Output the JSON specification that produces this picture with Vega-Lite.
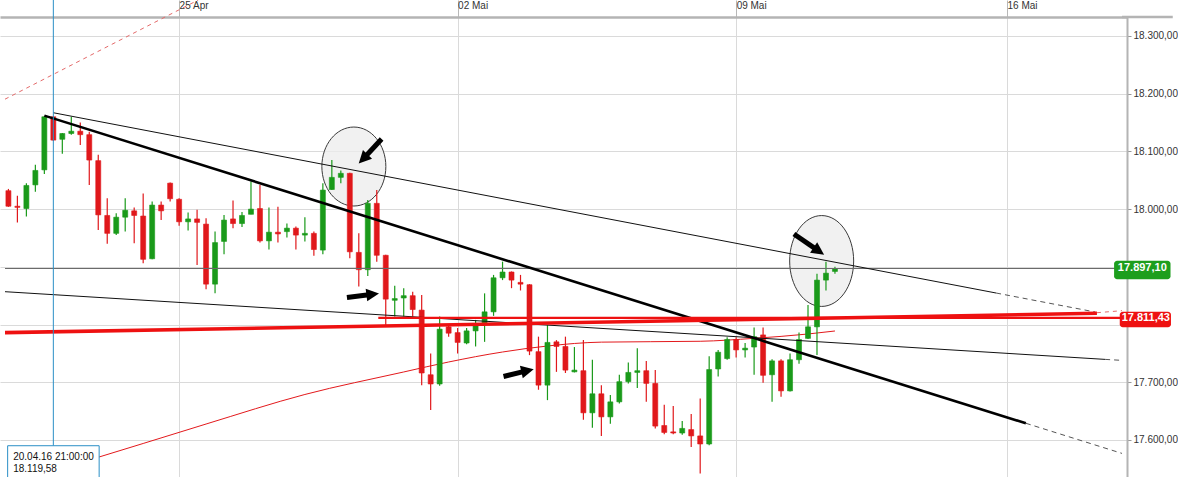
{
  "$schema": "https://vega.github.io/schema/vega-lite/v6.json",
  "width": 1127,
  "height": 460,
  "autosize": {"type": "none"},
  "padding": {"left": 0, "top": 17, "right": 51, "bottom": 0},
  "background": "white",
  "config": {
    "view": {"stroke": null},
    "font": "Liberation Sans",
    "locale": {"number": {"decimal": ",", "thousands": ".", "grouping": [3], "currency": ["", " €"]}}
  },
  "datasets": {
    "candles": [
      {"i":1,"o":18032,"h":18035,"l":18004,"c":18005},
      {"i":2,"o":18005,"h":18023,"l":17977,"c":18003},
      {"i":3,"o":18001,"h":18045,"l":17987,"c":18041},
      {"i":4,"o":18042,"h":18077,"l":18030,"c":18067},
      {"i":5,"o":18068,"h":18161,"l":18061,"c":18160},
      {"i":6,"o":18160,"h":18161,"l":18118,"c":18119.58},
      {"i":7,"o":18121,"h":18132,"l":18096,"c":18131},
      {"i":8,"o":18131,"h":18160,"l":18129,"c":18135},
      {"i":9,"o":18135,"h":18150,"l":18111,"c":18129},
      {"i":10,"o":18129,"h":18134,"l":18042,"c":18085},
      {"i":11,"o":18084,"h":18094,"l":17964,"c":17990},
      {"i":12,"o":17989,"h":18019,"l":17940,"c":17958},
      {"i":13,"o":17958,"h":17993,"l":17955,"c":17986},
      {"i":14,"o":17986,"h":18019,"l":17961,"c":17998},
      {"i":15,"o":17997,"h":18003,"l":17941,"c":17989},
      {"i":16,"o":17988,"h":18027,"l":17906,"c":17913},
      {"i":17,"o":17914,"h":18013,"l":17913,"c":18007},
      {"i":18,"o":18007,"h":18013,"l":17981,"c":17997},
      {"i":19,"o":18045,"h":18046,"l":18013,"c":18018},
      {"i":20,"o":18017,"h":18019,"l":17971,"c":17978},
      {"i":21,"o":17978,"h":17994,"l":17963,"c":17983},
      {"i":22,"o":17983,"h":17999,"l":17903,"c":17977},
      {"i":23,"o":17974,"h":17984,"l":17861,"c":17870},
      {"i":24,"o":17870,"h":17961,"l":17854,"c":17942},
      {"i":25,"o":17944,"h":17990,"l":17922,"c":17981},
      {"i":26,"o":17983,"h":18015,"l":17967,"c":17975},
      {"i":27,"o":17975,"h":17995,"l":17969,"c":17989},
      {"i":28,"o":17991,"h":18048,"l":17991,"c":18000},
      {"i":29,"o":18001,"h":18042,"l":17942,"c":17945},
      {"i":30,"o":17945,"h":18003,"l":17930,"c":17960},
      {"i":31,"o":17960,"h":18004,"l":17942,"c":17957},
      {"i":32,"o":17961,"h":17975,"l":17951,"c":17967},
      {"i":33,"o":17967,"h":17970,"l":17930,"c":17955},
      {"i":34,"o":17955,"h":17986,"l":17944,"c":17958},
      {"i":35,"o":17958,"h":17961,"l":17919,"c":17930},
      {"i":36,"o":17929,"h":18045,"l":17922,"c":18033},
      {"i":37,"o":18034,"h":18085,"l":18033,"c":18055},
      {"i":38,"o":18055,"h":18067,"l":18045,"c":18062},
      {"i":39,"o":18062,"h":18063,"l":17915,"c":17926},
      {"i":40,"o":17925,"h":17958,"l":17866,"c":17895},
      {"i":41,"o":17895,"h":18016,"l":17884,"c":18010},
      {"i":42,"o":18010,"h":18033,"l":17909,"c":17920},
      {"i":43,"o":17920,"h":17921,"l":17799,"c":17844},
      {"i":44,"o":17842,"h":17867,"l":17814,"c":17845},
      {"i":45,"o":17846,"h":17863,"l":17814,"c":17850},
      {"i":46,"o":17850,"h":17857,"l":17814,"c":17826},
      {"i":47,"o":17825,"h":17851,"l":17695,"c":17716},
      {"i":48,"o":17713,"h":17750,"l":17652,"c":17697},
      {"i":49,"o":17697,"h":17814,"l":17694,"c":17792},
      {"i":50,"o":17796,"h":17799,"l":17779,"c":17785},
      {"i":51,"o":17786,"h":17794,"l":17750,"c":17769},
      {"i":52,"o":17768,"h":17794,"l":17766,"c":17789},
      {"i":53,"o":17789,"h":17808,"l":17762,"c":17798},
      {"i":54,"o":17802,"h":17854,"l":17770,"c":17822},
      {"i":55,"o":17822,"h":17886,"l":17815,"c":17881},
      {"i":56,"o":17881,"h":17909,"l":17877,"c":17891},
      {"i":57,"o":17891,"h":17892,"l":17863,"c":17877},
      {"i":58,"o":17873,"h":17886,"l":17859,"c":17870},
      {"i":59,"o":17869,"h":17870,"l":17747,"c":17754},
      {"i":60,"o":17753,"h":17779,"l":17687,"c":17695},
      {"i":61,"o":17695,"h":17799,"l":17669,"c":17769},
      {"i":62,"o":17770,"h":17773,"l":17718,"c":17762},
      {"i":63,"o":17762,"h":17779,"l":17716,"c":17721},
      {"i":64,"o":17718,"h":17761,"l":17717,"c":17721},
      {"i":65,"o":17720,"h":17773,"l":17635,"c":17647},
      {"i":66,"o":17647,"h":17739,"l":17621,"c":17680},
      {"i":67,"o":17680,"h":17695,"l":17607,"c":17640},
      {"i":68,"o":17640,"h":17678,"l":17628,"c":17666},
      {"i":69,"o":17666,"h":17713,"l":17663,"c":17701},
      {"i":70,"o":17701,"h":17734,"l":17698,"c":17717},
      {"i":71,"o":17717,"h":17759,"l":17690,"c":17720},
      {"i":72,"o":17720,"h":17737,"l":17666,"c":17698},
      {"i":73,"o":17698,"h":17721,"l":17620,"c":17624},
      {"i":74,"o":17625,"h":17661,"l":17610,"c":17613},
      {"i":75,"o":17614,"h":17659,"l":17610,"c":17612},
      {"i":76,"o":17612,"h":17633,"l":17609,"c":17620},
      {"i":77,"o":17618,"h":17645,"l":17588,"c":17607},
      {"i":78,"o":17607,"h":17672,"l":17542,"c":17593},
      {"i":79,"o":17593,"h":17745,"l":17591,"c":17722},
      {"i":80,"o":17723,"h":17756,"l":17710,"c":17752},
      {"i":81,"o":17741,"h":17778,"l":17739,"c":17774},
      {"i":82,"o":17774,"h":17778,"l":17743,"c":17756},
      {"i":83,"o":17756,"h":17768,"l":17743,"c":17759},
      {"i":84,"o":17761,"h":17795,"l":17713,"c":17779},
      {"i":85,"o":17782,"h":17795,"l":17699,"c":17712},
      {"i":86,"o":17713,"h":17740,"l":17666,"c":17737},
      {"i":87,"o":17737,"h":17740,"l":17675,"c":17685},
      {"i":88,"o":17685,"h":17750,"l":17684,"c":17739},
      {"i":89,"o":17739,"h":17786,"l":17732,"c":17774},
      {"i":90,"o":17776,"h":17834,"l":17775,"c":17796},
      {"i":91,"o":17796,"h":17888,"l":17747,"c":17877},
      {"i":92,"o":17877,"h":17909,"l":17859,"c":17889},
      {"i":93,"o":17892,"h":17900,"l":17888,"c":17897.1}
    ],
    "ma": [
      {"i":6,"v":17546.2},{"i":11,"v":17570},{"i":16,"v":17593.9},{"i":23,"v":17627.6},
      {"i":34,"v":17678.8},{"i":45,"v":17717.8},{"i":50,"v":17735.1},{"i":56,"v":17752.4},
      {"i":61,"v":17762.8},{"i":67,"v":17769.5},{"i":78,"v":17771},{"i":84,"v":17776.1},
      {"i":90,"v":17783.6},{"i":93,"v":17788.8}
    ]
  },
  "layer": [
    {
      "data": {"values": [{"i": 39.45, "v": 18073.8}]},
      "mark": {"type": "point", "shape": "M-1,0A1,1.234,0,1,1,1,0A1,1.234,0,1,1,-1,0Z", "size": 4096, "filled": true, "fill": "#ececec", "fillOpacity": 0.75, "stroke": "#3a3a3a", "strokeWidth": 1, "opacity": 1},
      "encoding": {"x": {"field": "i", "type": "quantitative"}, "y": {"field": "v", "type": "quantitative"}}
    },
    {
      "data": {"values": [{"i": 91.52, "v": 17910.1}]},
      "mark": {"type": "point", "shape": "M-1,0A1,1.42,0,1,1,1,0A1,1.42,0,1,1,-1,0Z", "size": 4096, "filled": true, "fill": "#ececec", "fillOpacity": 0.75, "stroke": "#3a3a3a", "strokeWidth": 1, "opacity": 1},
      "encoding": {"x": {"field": "i", "type": "quantitative"}, "y": {"field": "v", "type": "quantitative"}}
    },
    {
      "data": {"name": "ma"},
      "mark": {"type": "line", "color": "#e3191c", "strokeWidth": 1, "interpolate": "monotone"},
      "encoding": {"x": {"field": "i", "type": "quantitative"}, "y": {"field": "v", "type": "quantitative"}}
    },
    {
      "data": {"name": "candles"},
      "mark": {"type": "rule", "strokeWidth": 1.2},
      "encoding": {
        "x": {"field": "i", "type": "quantitative",
          "scale": {"domain": [0.62, 124.95], "nice": false, "zero": false},
          "axis": {"orient": "top", "values": [20, 51, 82, 112.15],
            "labelExpr": "datum.value == 20 ? '25 Apr' : datum.value == 51 ? '02 Mai' : datum.value == 82 ? '09 Mai' : '16 Mai'",
            "tickSize": 17, "tickColor": "#b8b8b8", "labelAlign": "left", "labelBaseline": "middle",
            "labelPadding": -5, "labelDx": 6, "labelFontSize": 10, "labelColor": "#333",
            "grid": true, "gridColor": "#dadada", "domain": true, "domainColor": "#b4b4b4", "domainWidth": 2.5,
            "title": null, "labelFlush": false, "labelOverlap": false}},
        "y": {"field": "l", "type": "quantitative",
          "scale": {"domain": [17535.8, 18332.9], "nice": false, "zero": false},
          "axis": {"orient": "right", "values": [17600, 17700, 17800, 17900, 18000, 18100, 18200, 18300],
            "format": ",.2f", "labelExpr": "datum.value == 17800 || datum.value == 17900 ? '' : datum.label",
            "tickSize": 4, "tickColor": "#999", "labelPadding": 2, "labelFontSize": 10,
            "labelColor": "#333", "grid": true, "gridColor": "#dadada", "domainColor": "#b4b4b4", "domainWidth": 2,
            "title": null}},
        "y2": {"field": "h"},
        "color": {"condition": {"test": "datum.c >= datum.o", "value": "#1a9a1a"}, "value": "#e0181b"}
      }
    },
    {
      "data": {"name": "candles"},
      "mark": {"type": "bar", "width": 5, "strokeWidth": 0.6},
      "encoding": {
        "x": {"field": "i", "type": "quantitative"},
        "y": {"field": "o", "type": "quantitative"},
        "y2": {"field": "c"},
        "color": {"condition": {"test": "datum.c >= datum.o", "value": "#1a9a1a"}, "value": "#e0181b"},
        "stroke": {"condition": {"test": "datum.c >= datum.o", "value": "#1a9a1a"}, "value": "#e0181b"}
      }
    },
    {
      "data": {"values": [{"x1": 0.62, "y1": 17897.1, "x2": 124.95, "y2": 17897.1}]},
      "mark": {"type": "rule", "color": "#6a6a6a", "strokeWidth": 1},
      "encoding": {"x": {"field": "x1", "type": "quantitative"}, "y": {"field": "y1", "type": "quantitative"}, "x2": {"field": "x2"}, "y2": {"field": "y2"}}
    },
    {
      "data": {"values": [
        {"x1": 6, "y1": 18167, "x2": 110.94, "y2": 17854.6},
        {"x1": 0.62, "y1": 17856.9, "x2": 123.07, "y2": 17739.6}
      ]},
      "mark": {"type": "rule", "color": "#111", "strokeWidth": 1},
      "encoding": {"x": {"field": "x1", "type": "quantitative"}, "y": {"field": "y1", "type": "quantitative"}, "x2": {"field": "x2"}, "y2": {"field": "y2"}}
    },
    {
      "data": {"values": [
        {"x1": 114.25, "y1": 17628.9, "x2": 124.95, "y2": 17576.7},
        {"x1": 110.94, "y1": 17854.6, "x2": 121.97, "y2": 17821.7},
        {"x1": 123.07, "y1": 17739.6, "x2": 124.95, "y2": 17737.9}
      ]},
      "mark": {"type": "rule", "color": "#555", "strokeWidth": 1, "strokeDash": [5, 4]},
      "encoding": {"x": {"field": "x1", "type": "quantitative"}, "y": {"field": "y1", "type": "quantitative"}, "x2": {"field": "x2"}, "y2": {"field": "y2"}}
    },
    {
      "data": {"values": [{"x1": 5, "y1": 18162, "x2": 114.25, "y2": 17628.9}]},
      "mark": {"type": "rule", "color": "#000", "strokeWidth": 2.6},
      "encoding": {"x": {"field": "x1", "type": "quantitative"}, "y": {"field": "y1", "type": "quantitative"}, "x2": {"field": "x2"}, "y2": {"field": "y2"}}
    },
    {
      "data": {"values": [{"x1": 42.17, "y1": 17811.43, "x2": 124.95, "y2": 17811.43}]},
      "mark": {"type": "rule", "color": "#ee1111", "strokeWidth": 2.2},
      "encoding": {"x": {"field": "x1", "type": "quantitative"}, "y": {"field": "y1", "type": "quantitative"}, "x2": {"field": "x2"}, "y2": {"field": "y2"}}
    },
    {
      "data": {"values": [{"x1": 0.62, "y1": 17785.9, "x2": 122.16, "y2": 17819.5}]},
      "mark": {"type": "rule", "color": "#ee1111", "strokeWidth": 3.6},
      "encoding": {"x": {"field": "x1", "type": "quantitative"}, "y": {"field": "y1", "type": "quantitative"}, "x2": {"field": "x2"}, "y2": {"field": "y2"}}
    },
    {
      "data": {"values": [
        {"x1": 0.62, "y1": 18190.5, "x2": 22.13, "y2": 18362.4},
        {"x1": 122.16, "y1": 17820.5, "x2": 124.95, "y2": 17824}
      ]},
      "mark": {"type": "rule", "color": "#e46a6a", "strokeWidth": 1, "strokeDash": [4, 4]},
      "encoding": {"x": {"field": "x1", "type": "quantitative"}, "y": {"field": "y1", "type": "quantitative"}, "x2": {"field": "x2"}, "y2": {"field": "y2"}}
    },
    {
      "data": {"values": [{"x1": 124.95, "y1": 18332.9, "x2": 130.6, "y2": 18332.9}]},
      "mark": {"type": "rule", "color": "#b4b4b4", "strokeWidth": 2.5},
      "encoding": {"x": {"field": "x1", "type": "quantitative"}, "y": {"field": "y1", "type": "quantitative"}, "x2": {"field": "x2"}, "y2": {"field": "y2"}}
    },
    {
      "data": {"values": [{"x1": 6, "y1": 17590, "x2": 6, "y2": 18362.4}]},
      "mark": {"type": "rule", "color": "#2b8fc6", "strokeWidth": 1},
      "encoding": {"x": {"field": "x1", "type": "quantitative"}, "y": {"field": "y1", "type": "quantitative"}, "x2": {"field": "x2"}, "y2": {"field": "y2"}}
    },
    {
      "data": {"values": [
        {"x1": 42.54, "y1": 18121.5, "x2": 40.48, "y2": 18086.8},
        {"x1": 88.43, "y1": 17956.9, "x2": 91.21, "y2": 17927.2},
        {"x1": 38.68, "y1": 17846.8, "x2": 41.55, "y2": 17852.4},
        {"x1": 56.11, "y1": 17710.0, "x2": 58.78, "y2": 17720.2}
      ]},
      "mark": {"type": "rule", "color": "#000", "strokeWidth": 5},
      "encoding": {"x": {"field": "x1", "type": "quantitative"}, "y": {"field": "y1", "type": "quantitative"}, "x2": {"field": "x2"}, "y2": {"field": "y2"}}
    },
    {
      "data": {"values": [{"i": 40.48, "v": 18086.8}]},
      "mark": {"type": "point", "shape": "M-1,-1L1,0L-1,1Z", "size": 160, "filled": true, "color": "#000", "opacity": 1, "angle": 134},
      "encoding": {"x": {"field": "i", "type": "quantitative"}, "y": {"field": "v", "type": "quantitative"}}
    },
    {
      "data": {"values": [{"i": 91.21, "v": 17927.2}]},
      "mark": {"type": "point", "shape": "M-1,-1L1,0L-1,1Z", "size": 160, "filled": true, "color": "#000", "opacity": 1, "angle": 34},
      "encoding": {"x": {"field": "i", "type": "quantitative"}, "y": {"field": "v", "type": "quantitative"}}
    },
    {
      "data": {"values": [{"i": 41.55, "v": 17852.4}]},
      "mark": {"type": "point", "shape": "M-1,-1L1,0L-1,1Z", "size": 160, "filled": true, "color": "#000", "opacity": 1, "angle": 353},
      "encoding": {"x": {"field": "i", "type": "quantitative"}, "y": {"field": "v", "type": "quantitative"}}
    },
    {
      "data": {"values": [{"i": 58.78, "v": 17720.2}]},
      "mark": {"type": "point", "shape": "M-1,-1L1,0L-1,1Z", "size": 160, "filled": true, "color": "#000", "opacity": 1, "angle": 347},
      "encoding": {"x": {"field": "i", "type": "quantitative"}, "y": {"field": "v", "type": "quantitative"}}
    },
    {
      "data": {"values": [{"x1": 0.915, "x2": 11.1, "y1": 17590, "y2": 17500}]},
      "mark": {"type": "rect", "fill": "white", "stroke": "#2b8fc6", "strokeWidth": 1},
      "encoding": {"x": {"field": "x1", "type": "quantitative"}, "x2": {"field": "x2"}, "y": {"field": "y1", "type": "quantitative"}, "y2": {"field": "y2"}}
    },
    {
      "data": {"values": [
        {"i": 1.53, "v": 17570.5, "t": "20.04.16 21:00:00"},
        {"i": 1.53, "v": 17549.2, "t": "18.119,58"}
      ]},
      "mark": {"type": "text", "align": "left", "baseline": "middle", "fontSize": 10, "color": "#111"},
      "encoding": {"x": {"field": "i", "type": "quantitative"}, "y": {"field": "v", "type": "quantitative"}, "text": {"field": "t"}}
    },
    {
      "data": {"values": [{"x1": 124.07, "x2": 130.35, "y1": 17878.4, "y2": 17910.6}]},
      "mark": {"type": "rect", "fill": "#1d9e1d", "cornerRadius": 3},
      "encoding": {"x": {"field": "x1", "type": "quantitative"}, "x2": {"field": "x2"}, "y": {"field": "y1", "type": "quantitative"}, "y2": {"field": "y2"}}
    },
    {
      "data": {"values": [{"x1": 124.7, "x2": 130.4, "y1": 17795.2, "y2": 17822.3}]},
      "mark": {"type": "rect", "fill": "#ee1111", "cornerRadius": 3},
      "encoding": {"x": {"field": "x1", "type": "quantitative"}, "x2": {"field": "x2"}, "y": {"field": "y1", "type": "quantitative"}, "y2": {"field": "y2"}}
    },
    {
      "data": {"values": [{"i": 127.21, "v": 17897.1}, {"i": 127.6, "v": 17811.43}]},
      "mark": {"type": "text", "align": "center", "baseline": "middle", "fontSize": 11, "fontWeight": "bold", "color": "white"},
      "encoding": {"x": {"field": "i", "type": "quantitative"}, "y": {"field": "v", "type": "quantitative"}, "text": {"field": "v", "type": "quantitative", "format": ",.2f"}}
    }
  ]
}
